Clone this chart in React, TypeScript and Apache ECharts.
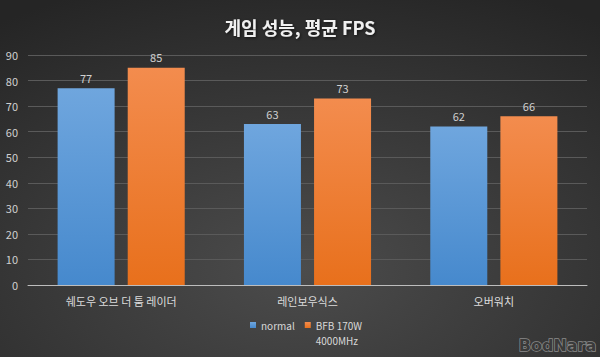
import React, { useEffect, useRef } from "react";
import * as echarts from "echarts";

const categories = ["쉐도우 오브 더 툼 레이더", "레인보우식스", "오버워치"];
const seriesNames = ["normal", "BFB 170W"];
const legendSecondLine = "4000MHz";
const normalValues = [77, 63, 62];
const bfbValues = [85, 73, 66];

const FONT = "'Noto Sans CJK KR', 'Noto Sans', sans-serif";

function measure(text: string, font: string): number {
  const ctx = document.createElement("canvas").getContext("2d");
  if (!ctx) return text.length * 6;
  ctx.font = font;
  return ctx.measureText(text).width;
}

export default function App() {
  const ref = useRef<HTMLDivElement>(null);
  useEffect(() => {
    if (!ref.current) return;
    document.body.style.margin = "0";
    const chart = echarts.init(ref.current, null, { renderer: "svg" });
    const grad = (top: string, bottom: string) =>
      new echarts.graphic.LinearGradient(0, 0, 0, 1, [
        { offset: 0, color: top },
        { offset: 1, color: bottom },
      ]);
    const legendLeft = 250;
    const legendFont = `10px ${FONT}`;
    const secondTextX =
      legendLeft + 6 + 5 + measure(seriesNames[0], legendFont) + 10 + 6 + 5;
    chart.setOption({
      animation: false,
      backgroundColor: {
        type: "radial",
        x: 0.5,
        y: 0.75,
        r: 0.85,
        colorStops: [
          { offset: 0, color: "#4c4c4c" },
          { offset: 1, color: "#252525" },
        ],
      },
      title: {
        text: "게임 성능, 평균 FPS",
        left: "center",
        top: 13,
        textStyle: {
          color: "#f0f0f0",
          fontSize: 18,
          fontWeight: "bold",
          fontFamily: FONT,
          textShadowColor: "rgba(0,0,0,0.6)",
          textShadowBlur: 3,
          textShadowOffsetX: 1,
          textShadowOffsetY: 1,
        },
      },
      legend: {
        top: 320,
        left: legendLeft,
        padding: 0,
        itemWidth: 6,
        itemHeight: 6,
        itemGap: 10,
        icon: "rect",
        data: seriesNames,
        textStyle: {
          color: "#d8d8d8",
          fontSize: 10,
          fontFamily: FONT,
        },
      },
      grid: { left: 28, right: 13, top: 55, bottom: 72 },
      xAxis: {
        type: "category",
        data: categories,
        axisTick: { show: false },
        axisLine: { lineStyle: { color: "#bdbdbd", width: 1 } },
        axisLabel: {
          color: "#dcdcdc",
          fontSize: 11,
          fontFamily: FONT,
          margin: 10,
        },
      },
      yAxis: {
        type: "value",
        min: 0,
        max: 90,
        interval: 10,
        axisLine: { show: false },
        axisTick: { show: false },
        axisLabel: {
          color: "#d0d0d0",
          fontSize: 11,
          fontFamily: FONT,
          margin: 10,
        },
        splitLine: { lineStyle: { color: "#5a5a5a", width: 1 } },
      },
      series: [
        {
          name: seriesNames[0],
          type: "bar",
          data: normalValues,
          barWidth: 57,
          barGap: "23%",
          itemStyle: { color: grad("#6fa6de", "#4689cd") },
          label: {
            show: true,
            position: "top",
            distance: 5,
            color: "#d0d0d0",
            fontSize: 11,
            fontFamily: FONT,
          },
        },
        {
          name: seriesNames[1],
          type: "bar",
          data: bfbValues,
          barWidth: 57,
          barGap: "23%",
          itemStyle: { color: grad("#f38c4e", "#e8701c") },
          label: {
            show: true,
            position: "top",
            distance: 5,
            color: "#d0d0d0",
            fontSize: 11,
            fontFamily: FONT,
          },
        },
      ],
      graphic: [
        {
          type: "text",
          x: secondTextX,
          y: 340,
          style: {
            text: legendSecondLine,
            fill: "#d8d8d8",
            font: legendFont,
            verticalAlign: "middle",
            align: "left",
          },
        },
        {
          type: "text",
          right: 3,
          bottom: 3,
          style: {
            text: "BodNara",
            fill: "#3a3a3a",
            stroke: "#8a8a8a",
            lineWidth: 1.5,
            font: "bold 16px 'DejaVu Sans', sans-serif",
          },
        },
      ],
    });
    return () => chart.dispose();
  }, []);
  return <div ref={ref} style={{ width: 600, height: 357 }} />;
}
